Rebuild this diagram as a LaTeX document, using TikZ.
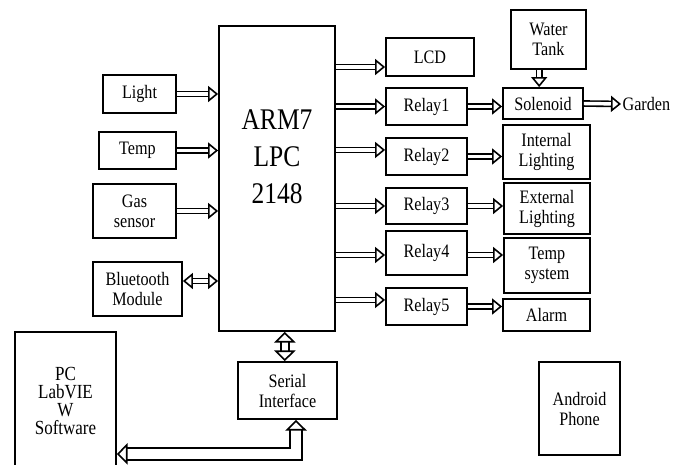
\documentclass[tikz,border=0pt]{standalone}
\usepackage{fontspec}
\setmainfont{Liberation Serif}[FakeStretch=0.85]
\usetikzlibrary{arrows.meta,positioning}

\tikzset{
  blk/.style={draw,line width=1.35pt,inner sep=0pt,align=center,font=\fontsize{14.25}{15}\selectfont},
  sz/.style 2 args={minimum width=#1*0.75pt,minimum height=#2*0.75pt},
  dbl/.style={double,double distance=2.6pt,line width=1.2pt,-{Triangle[open,length=7.5pt,width=12pt]}},
  dblboth/.style={double,double distance=2.6pt,line width=1.2pt,{Triangle[open,length=7.5pt,width=12pt]}-{Triangle[open,length=7.5pt,width=12pt]}},
  wide/.style={double,double distance=#1,line width=1.2pt,{Triangle[open,length=8pt,width=16pt]}-{Triangle[open,length=8pt,width=16pt]}},
}

\begin{document}
\begin{tikzpicture}[x=0.75pt,y=-0.75pt]
\useasboundingbox[fill=white] (0,0) rectangle (684,464);

% controller
\node[blk,sz={116}{305}] (arm) at (277,178.5) {};
\node[font=\fontsize{22.5}{27.75}\selectfont,align=center] (armlbl) at (277,157) {ARM7\\LPC\\2148};

% inputs
\node[blk,sz={73}{38}] (light) at (139.5,94) {Light};
\node[blk,sz={77}{37}] (temp) at (137.5,150.5) {Temp};
\node[blk,sz={83}{54}] (gas) at (134.5,211) {Gas\\sensor};
\node[blk,sz={89}{54}] (bt) at (137.5,289) {Bluetooth\\Module};
\node[blk,sz={101}{138},font=\fontsize{15}{13.5}\selectfont] (pc) at (65.5,401) {PC\\LabVIE\\W\\Software};
\node[blk,sz={99}{57}] (serial) at (287.5,390.5) {Serial\\Interface};

% outputs
\node[blk,sz={88}{38}] (lcd) at (430,57) {LCD};
\node[blk,sz={81}{37}] (relay1) at (426.5,106.5) {Relay1};
\node[blk,sz={81}{37}] (relay2) at (426.5,156.5) {Relay2};
\node[blk,sz={81}{36}] (relay3) at (426.5,206) {Relay3};
\node[blk,sz={81}{44}] (relay4) at (426.5,253) {Relay4};
\node[blk,sz={81}{37}] (relay5) at (426.5,306.5) {Relay5};

\node[blk,sz={75}{59}] (tank) at (548.5,39.5) {Water\\Tank};
\node[blk,sz={80}{31}] (sol) at (543,103.5) {Solenoid};
\node[anchor=west,font=\fontsize{14.25}{15}\selectfont,inner sep=1pt] (garden) at (621,104) {Garden};
\node[blk,sz={87}{54}] (intl) at (546.5,152) {Internal\\Lighting};
\node[blk,sz={86}{51}] (extl) at (547,208.5) {External\\Lighting};
\node[blk,sz={86}{55}] (tsys) at (547,265.5) {Temp\\system};
\node[blk,sz={87}{32}] (alarm) at (546.5,315) {Alarm};
\node[blk,sz={81}{93}] (android) at (579.5,408.5) {Android\\Phone};

% sensors to controller
\draw[dbl] (light.east) -- (light.east -| arm.west);
\draw[dbl] (temp.east) -- (temp.east -| arm.west);
\draw[dbl] (gas.east) -- (gas.east -| arm.west);
\draw[dblboth] ([yshift=6pt]bt.east) -- ([yshift=6pt]bt.east -| arm.west);

% controller to relays
\draw[dbl] ([yshift=-7.5pt]lcd.west -| arm.east) -- ([yshift=-7.5pt]lcd.west);
\draw[dbl] (relay1.west -| arm.east) -- (relay1.west);
\draw[dbl] ([yshift=4.9pt]relay2.west -| arm.east) -- ([yshift=4.9pt]relay2.west);
\draw[dbl] (relay3.west -| arm.east) -- (relay3.west);
\draw[dbl] ([yshift=-1.5pt]relay4.west -| arm.east) -- ([yshift=-1.5pt]relay4.west);
\draw[dbl] ([yshift=4.9pt]relay5.west -| arm.east) -- ([yshift=4.9pt]relay5.west);

% relays to loads
\draw[dbl] (relay1.east) -- (relay1.east -| sol.west);
\draw[dbl] (relay2.east) -- (relay2.east -| intl.west);
\draw[dbl] (relay3.east) -- (relay3.east -| extl.west);
\draw[dbl] ([yshift=-1.5pt]relay4.east) -- ([yshift=-1.5pt]relay4.east -| tsys.west);
\draw[dbl] (relay5.east) -- (relay5.east -| alarm.west);

\draw[dbl] ([xshift=-7pt]tank.south) -- ([xshift=-7pt]tank.south |- sol.north);
\draw[dbl] (sol.east) -- (garden.west);

% serial link
\draw[wide=5pt] ([xshift=-2pt]serial.north) -- ([xshift=-2pt]serial.north |- arm.south);
\draw[wide=8pt] ([yshift=12.75pt]pc.south east) -| ([xshift=6.4pt]serial.south);
\end{tikzpicture}
\end{document}
